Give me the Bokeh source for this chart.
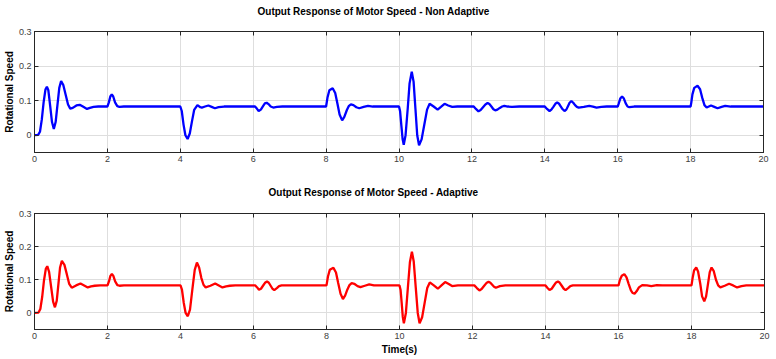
from bokeh.plotting import figure
from bokeh.layouts import column
from bokeh.models import FixedTicker, LinearAxis, Range1d, CustomLabelingPolicy
from bokeh.embed import file_html
from bokeh.resources import INLINE

# ---- data ----
time_non_adaptive = [
    0.00, 0.10, 0.15, 0.20, 0.25, 0.30, 0.34, 0.38, 0.43, 0.48, 0.53, 0.58, 0.63, 0.68, 0.73,
    0.79, 0.855, 0.92, 0.98, 1.05, 1.15, 1.24, 1.34, 1.44, 1.52, 1.62, 1.75, 2.00,
    2.04, 2.08, 2.12, 2.16, 2.21, 2.27, 2.33, 2.45, 4.00,
    4.04, 4.09, 4.14, 4.20, 4.26, 4.32, 4.38, 4.47, 4.55, 4.59, 4.68, 4.77, 4.86, 4.95, 5.05, 5.20, 6.05,
    6.10, 6.15, 6.21, 6.27, 6.32, 6.37, 6.42, 6.48, 6.55, 6.65, 6.80, 8.00,
    8.04, 8.09, 8.18, 8.25, 8.31, 8.37, 8.44, 8.50, 8.57, 8.62, 8.68, 8.75, 8.83, 8.91, 9.03, 9.15, 9.28, 10.00,
    10.03, 10.065, 10.10, 10.13, 10.18, 10.24, 10.29, 10.35, 10.40, 10.45, 10.50, 10.55,
    10.62, 10.695, 10.77, 10.84, 10.95, 11.06, 11.15, 11.25, 11.35, 11.46, 11.60, 12.05,
    12.11, 12.18, 12.24, 12.305, 12.37, 12.43, 12.48, 12.535, 12.59, 12.64, 12.70, 12.765, 12.83, 12.89,
    12.98, 13.10, 13.30, 14.00,
    14.06, 14.13, 14.18, 14.235, 14.29, 14.34, 14.39, 14.44, 14.49, 14.54, 14.59, 14.635, 14.68, 14.73,
    14.78, 14.83, 14.88, 14.93, 15.07, 15.22, 15.32, 15.42, 15.55, 15.70, 16.00,
    16.03, 16.07, 16.12, 16.17, 16.22, 16.27, 16.32, 16.45, 18.00,
    18.02, 18.05, 18.10, 18.19, 18.26, 18.32, 18.38, 18.44, 18.50, 18.56, 18.65, 18.74, 18.85, 18.95,
    19.10, 20.00,
]
speed_non_adaptive = [
    0.000, 0.001, 0.010, 0.045, 0.095, 0.132, 0.140, 0.130, 0.085, 0.038, 0.018, 0.038, 0.088, 0.137, 0.157,
    0.145, 0.117, 0.089, 0.077, 0.079, 0.086, 0.088, 0.082, 0.076, 0.079, 0.082, 0.083, 0.083,
    0.095, 0.112, 0.118, 0.112, 0.095, 0.084, 0.082, 0.083, 0.083,
    0.070, 0.030, 0.000, -0.011, 0.005, 0.040, 0.073, 0.087, 0.081, 0.080, 0.083, 0.086, 0.082, 0.078, 0.081, 0.083, 0.083,
    0.077, 0.070, 0.074, 0.084, 0.092, 0.094, 0.090, 0.083, 0.080, 0.082, 0.083, 0.083,
    0.110, 0.130, 0.136, 0.122, 0.092, 0.060, 0.043, 0.053, 0.073, 0.084, 0.089, 0.087, 0.081, 0.078, 0.082, 0.085, 0.083, 0.083,
    0.069, 0.028, -0.012, -0.028, 0.000, 0.078, 0.150, 0.184, 0.155, 0.078, 0.000, -0.029,
    -0.012, 0.031, 0.074, 0.091, 0.083, 0.074, 0.082, 0.091, 0.086, 0.082, 0.083, 0.083,
    0.076, 0.069, 0.073, 0.081, 0.089, 0.093, 0.090, 0.083, 0.075, 0.072, 0.074, 0.079, 0.083, 0.085,
    0.083, 0.082, 0.083, 0.083,
    0.076, 0.070, 0.074, 0.082, 0.091, 0.095, 0.091, 0.083, 0.075, 0.070, 0.074, 0.084, 0.094, 0.099,
    0.094, 0.087, 0.082, 0.080, 0.082, 0.085, 0.083, 0.080, 0.082, 0.083, 0.083,
    0.092, 0.106, 0.112, 0.106, 0.092, 0.083, 0.081, 0.083, 0.083,
    0.095, 0.118, 0.137, 0.143, 0.133, 0.108, 0.087, 0.080, 0.083, 0.086, 0.082, 0.078, 0.082, 0.085,
    0.083, 0.083,
]

time_adaptive = [
    0.00, 0.11, 0.16, 0.21, 0.26, 0.31, 0.35, 0.40, 0.455, 0.51, 0.56, 0.61, 0.655, 0.70, 0.75,
    0.82, 0.885, 0.95, 1.02, 1.14, 1.26, 1.36, 1.46, 1.55, 1.65, 1.80, 2.00,
    2.04, 2.08, 2.12, 2.16, 2.21, 2.27, 2.33, 2.45, 4.00,
    4.04, 4.09, 4.14, 4.20, 4.26, 4.325, 4.39, 4.45, 4.51, 4.57, 4.63, 4.69, 4.82, 4.95, 5.05, 5.15,
    5.25, 5.35, 5.50, 6.05,
    6.10, 6.15, 6.205, 6.26, 6.315, 6.37, 6.42, 6.47, 6.52, 6.57, 6.64, 6.70, 6.77, 8.00,
    8.04, 8.09, 8.19, 8.26, 8.32, 8.385, 8.45, 8.51, 8.57, 8.63, 8.69, 8.76, 8.85, 8.93, 9.05, 9.17, 9.30, 10.00,
    10.03, 10.06, 10.09, 10.12, 10.175, 10.23, 10.285, 10.34, 10.39, 10.445, 10.50, 10.55,
    10.62, 10.69, 10.76, 10.83, 10.94, 11.05, 11.15, 11.25, 11.35, 11.44, 11.60, 12.05,
    12.12, 12.19, 12.25, 12.315, 12.38, 12.44, 12.49, 12.54, 12.59, 12.64, 12.75, 12.90, 14.00,
    14.05, 14.11, 14.17, 14.225, 14.28, 14.34, 14.39, 14.445, 14.50, 14.55, 14.62, 14.68, 14.75, 16.00,
    16.04, 16.09, 16.16, 16.22, 16.28, 16.34, 16.39, 16.44, 16.50, 16.56, 16.65, 16.78, 16.90, 17.05, 17.20, 18.00,
    18.03, 18.07, 18.13, 18.18, 18.24, 18.29, 18.35, 18.40, 18.45, 18.50, 18.55, 18.61, 18.67, 18.73, 18.79,
    18.91, 19.03, 19.14, 19.25, 19.37, 19.50, 20.00,
]
speed_adaptive = [
    0.000, 0.001, 0.012, 0.048, 0.098, 0.133, 0.141, 0.124, 0.079, 0.034, 0.017, 0.037, 0.087, 0.137, 0.157,
    0.145, 0.117, 0.088, 0.076, 0.083, 0.089, 0.083, 0.077, 0.080, 0.082, 0.083, 0.083,
    0.095, 0.112, 0.118, 0.112, 0.095, 0.084, 0.082, 0.083, 0.083,
    0.070, 0.030, 0.000, -0.010, 0.010, 0.071, 0.130, 0.152, 0.137, 0.106, 0.085, 0.077, 0.082, 0.089, 0.083, 0.077,
    0.080, 0.082, 0.083, 0.083,
    0.077, 0.070, 0.073, 0.082, 0.091, 0.095, 0.091, 0.082, 0.073, 0.069, 0.075, 0.081, 0.083, 0.083,
    0.110, 0.130, 0.136, 0.122, 0.090, 0.058, 0.042, 0.052, 0.070, 0.084, 0.090, 0.088, 0.081, 0.078, 0.082, 0.086, 0.083, 0.083,
    0.069, 0.030, -0.012, -0.031, 0.000, 0.077, 0.153, 0.185, 0.155, 0.077, 0.000, -0.031,
    -0.013, 0.031, 0.075, 0.092, 0.083, 0.073, 0.083, 0.093, 0.087, 0.081, 0.083, 0.083,
    0.075, 0.068, 0.072, 0.081, 0.090, 0.094, 0.091, 0.085, 0.079, 0.076, 0.081, 0.083, 0.083,
    0.076, 0.069, 0.073, 0.082, 0.091, 0.095, 0.091, 0.082, 0.073, 0.069, 0.075, 0.081, 0.083, 0.083,
    0.100, 0.112, 0.117, 0.107, 0.087, 0.068, 0.060, 0.058, 0.066, 0.077, 0.084, 0.083, 0.081, 0.084, 0.083, 0.083,
    0.105, 0.128, 0.137, 0.125, 0.088, 0.050, 0.035, 0.050, 0.086, 0.123, 0.137, 0.126, 0.100, 0.083, 0.077,
    0.082, 0.088, 0.083, 0.077, 0.081, 0.083, 0.083,
]

x_ticks = [0, 2, 4, 6, 8, 10, 12, 14, 16, 18, 20]
y_ticks = [0, 0.1, 0.2, 0.3]
y_tick_labels = {0: "0", 0.1: "0.1", 0.2: "0.2", 0.3: "0.3"}

title_top = "Output Response of Motor Speed - Non Adaptive"
title_bottom = "Output Response of Motor Speed - Adaptive"
y_label = "Rotational Speed"
x_label = "Time(s)"

FONT = "Liberation Sans"
AXC = "#262626"
TICKC = "#404040"

NO_LABELS = CustomLabelingPolicy(code="""
if (typeof indices.clear === "function") { indices.clear(); return indices; }
for (const i of Array.from(indices)) { indices.unset(i); }
return indices;
""")


def make_fig(title, xs, ys, color, frame_w, frame_h, borders, title_standoff, title_offset, show_xlabel):
    p = figure(frame_width=frame_w, frame_height=frame_h, output_backend="svg", toolbar_location=None,
               x_range=Range1d(0, 20), y_range=Range1d(-0.05, 0.3),
               min_border_left=borders[0], min_border_right=borders[1],
               min_border_top=borders[2], min_border_bottom=borders[3])
    p.line(xs, ys, line_color=color, line_width=2.3)
    p.title.text = title
    p.title.align = "left"
    p.title.offset = title_offset
    p.title.text_font = FONT
    p.title.text_font_size = "10px"
    p.title.text_font_style = "bold"
    p.title.text_color = "black"
    p.title.standoff = title_standoff
    p.outline_line_color = AXC
    p.outline_line_width = 1
    p.background_fill_color = "white"
    p.border_fill_color = "white"

    for ax in (p.xaxis[0], p.yaxis[0]):
        ax.axis_line_color = AXC
        ax.major_tick_line_color = AXC
        ax.major_tick_in = 4
        ax.major_tick_out = 0
        ax.minor_tick_line_color = None
        ax.major_label_text_font = FONT
        ax.major_label_text_font_size = "9px"
        ax.major_label_text_color = TICKC
        ax.axis_label_text_font = FONT
        ax.axis_label_text_font_size = "10px"
        ax.axis_label_text_font_style = "bold"
        ax.axis_label_text_color = "black"
    p.xaxis.ticker = FixedTicker(ticks=x_ticks)
    p.yaxis.ticker = FixedTicker(ticks=y_ticks)
    p.yaxis.major_label_overrides = y_tick_labels
    p.yaxis.axis_label = y_label
    p.yaxis.axis_label_standoff = 1
    p.yaxis.major_label_standoff = 3
    p.xaxis.major_label_standoff = 3
    if show_xlabel:
        p.xaxis.axis_label = x_label
        p.xaxis.axis_label_standoff = 2

    # mirrored inward ticks on top and right, like a boxed axes
    top = LinearAxis(ticker=FixedTicker(ticks=x_ticks), major_tick_in=4, major_tick_out=0,
                     minor_tick_line_color=None, major_label_policy=NO_LABELS,
                     major_label_standoff=0, axis_line_color=AXC, major_tick_line_color=AXC)
    right = LinearAxis(ticker=FixedTicker(ticks=y_ticks), major_tick_in=4, major_tick_out=0,
                       minor_tick_line_color=None, major_label_policy=NO_LABELS,
                       major_label_standoff=0, axis_line_color=AXC, major_tick_line_color=AXC)
    p.add_layout(top, "above")
    p.add_layout(right, "right")

    p.xgrid.ticker = FixedTicker(ticks=x_ticks)
    p.ygrid.ticker = FixedTicker(ticks=y_ticks)
    p.grid.grid_line_color = "#dedede"
    p.grid.grid_line_width = 1
    return p


p1 = make_fig(title_top, time_non_adaptive, speed_non_adaptive, "#0000ff", 729, 121,
              (27, 2, 20, 28), 7, 223, False)
p2 = make_fig(title_bottom, time_adaptive, speed_adaptive, "#ff0000", 730, 116,
              (29, 1, 20, 20), 9, 234, True)

layout = column(p1, p2, spacing=0)
open("out.html", "w").write(file_html(layout, INLINE))
